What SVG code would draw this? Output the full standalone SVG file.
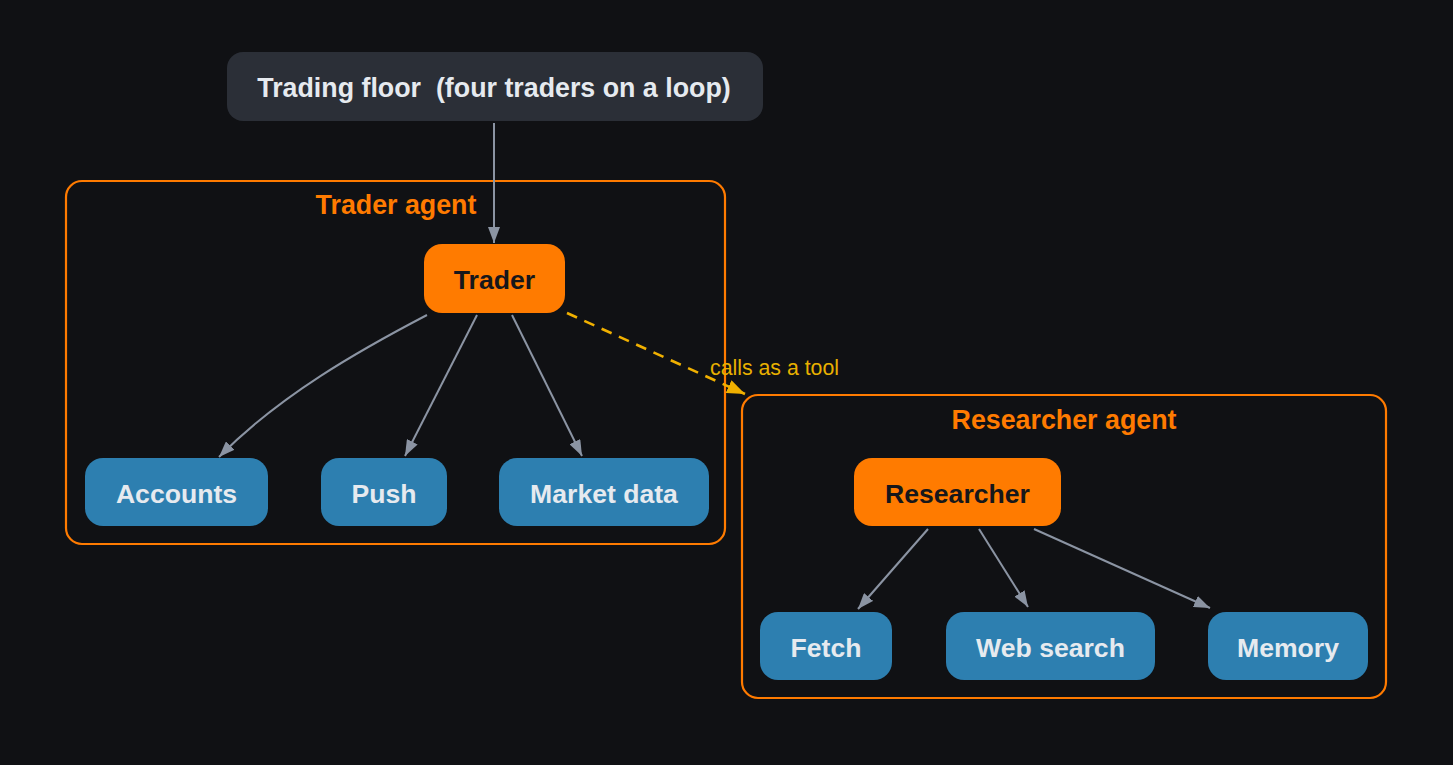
<svg xmlns="http://www.w3.org/2000/svg" width="1453" height="765" viewBox="0 0 1453 765">
<style>
text{font-family:"Liberation Sans",Arial,sans-serif;text-anchor:middle;white-space:pre}
.cl{fill:none;stroke:#ff7b00;stroke-width:2.2}
.cll{fill:#ff7b00;font-weight:bold;font-size:26.8px}
.tool rect{fill:#2d7fb0}
.tool text{fill:#e6eaef;font-weight:bold;font-size:26.6px}
.agent rect{fill:#ff7b00}
.agent text{fill:#16171b;font-weight:bold;font-size:26.6px}
.e{fill:none;stroke:#8b94a3;stroke-width:2}
.d{fill:none;stroke:#f0b000;stroke-width:2.6;stroke-dasharray:11,8}
</style>
<defs>
<marker id="a" viewBox="0 0 16 12" refX="16" refY="6" markerWidth="16" markerHeight="12" markerUnits="userSpaceOnUse" orient="auto"><path d="M0,0 L16,6 L0,12 z" fill="#8b94a3"/></marker>
<marker id="ay" viewBox="0 0 18 14" refX="18" refY="7" markerWidth="18" markerHeight="14" markerUnits="userSpaceOnUse" orient="auto"><path d="M0,0 L18,7 L0,14 z" fill="#f0b000"/></marker>
</defs>
<rect width="1453" height="765" fill="#101114"/>
<g id="cluster-trader"><rect class="cl" x="66" y="181" width="659" height="363" rx="16"/><text class="cll" x="396" y="214">Trader agent</text></g>
<g id="cluster-researcher"><rect class="cl" x="742" y="395" width="644" height="303" rx="16"/><text class="cll" x="1064" y="429">Researcher agent</text></g>
<g id="floor"><rect x="227" y="52" width="536" height="69" rx="16" fill="#2b2f37"/><text x="494" y="97" fill="#e6eaef" font-weight="bold" font-size="26.8px" xml:space="preserve">Trading floor  (four traders on a loop)</text></g>
<g id="trader" class="agent"><rect x="424" y="244" width="141" height="69" rx="18"/><text x="494.5" y="289">Trader</text></g>
<g id="accounts" class="tool"><rect x="85" y="458" width="183" height="68" rx="18"/><text x="176.5" y="503">Accounts</text></g>
<g id="push" class="tool"><rect x="321" y="458" width="126" height="68" rx="18"/><text x="384" y="503">Push</text></g>
<g id="market" class="tool"><rect x="499" y="458" width="210" height="68" rx="18"/><text x="604" y="503">Market data</text></g>
<g id="researcher" class="agent"><rect x="854" y="458" width="207" height="68" rx="18"/><text x="957.5" y="503">Researcher</text></g>
<g id="fetch" class="tool"><rect x="760" y="612" width="132" height="68" rx="18"/><text x="826" y="657">Fetch</text></g>
<g id="websearch" class="tool"><rect x="946" y="612" width="209" height="68" rx="18"/><text x="1050.5" y="657">Web search</text></g>
<g id="memory" class="tool"><rect x="1208" y="612" width="160" height="68" rx="18"/><text x="1288" y="657">Memory</text></g>
<g id="edges">
<path class="e" d="M494,123 L494,243" marker-end="url(#a)"/>
<path class="e" d="M427,315 C360,350 280,395 219,457" marker-end="url(#a)"/>
<path class="e" d="M477,315 L405,456" marker-end="url(#a)"/>
<path class="e" d="M512,315 L582,456" marker-end="url(#a)"/>
<path class="d" d="M567,313 L745,394" marker-end="url(#ay)"/>
<text x="710" y="375" fill="#e8b000" font-size="21.3px" style="text-anchor:start">calls as a tool</text>
<path class="e" d="M928,529 L858,609" marker-end="url(#a)"/>
<path class="e" d="M979,529 L1028,607" marker-end="url(#a)"/>
<path class="e" d="M1034,529 L1210,608" marker-end="url(#a)"/>
</g>
</svg>
